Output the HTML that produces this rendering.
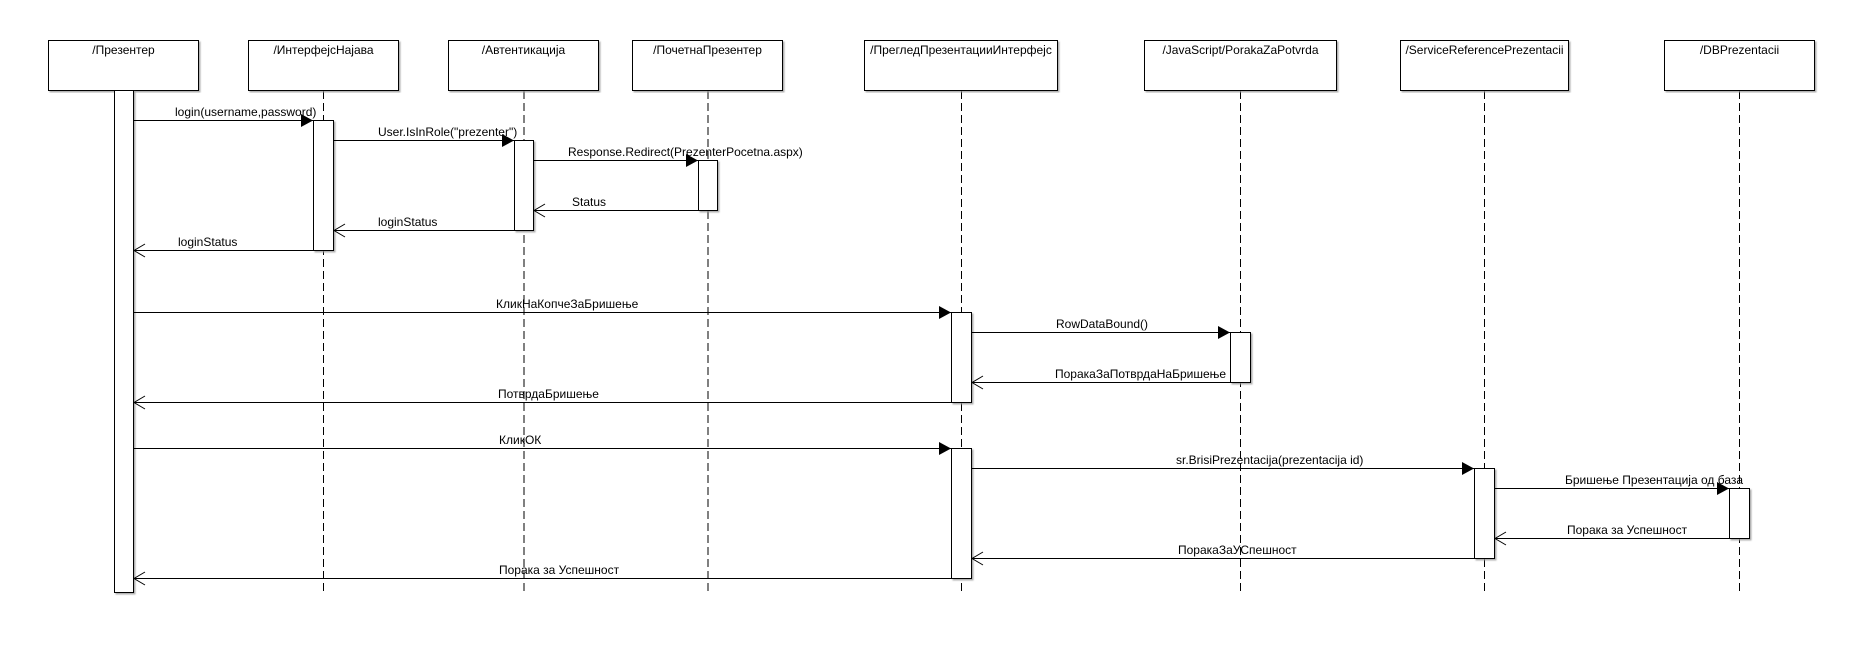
<!DOCTYPE html>
<html><head><meta charset="utf-8"><style>
html,body{margin:0;padding:0;background:#fff;}
svg{display:block;}
text{font-family:"Liberation Sans","DejaVu Sans",sans-serif;font-size:12px;fill:#000;}
</style></head><body>
<svg width="1862" height="650" viewBox="0 0 1862 650" xmlns="http://www.w3.org/2000/svg">
<defs>
<filter id="sh" x="-5%" y="-5%" width="110%" height="110%"><feDropShadow dx="1.5" dy="1.5" stdDeviation="0.8" flood-color="#999" flood-opacity="0.8"/></filter>
</defs>
<!-- lifelines -->
<g stroke="#000" stroke-width="1" stroke-dasharray="8,4" fill="none">
<line x1="323.5" y1="91" x2="323.5" y2="594"/>
<line x1="524" y1="91" x2="524" y2="594"/>
<line x1="708" y1="91" x2="708" y2="594"/>
<line x1="961.5" y1="91" x2="961.5" y2="594"/>
<line x1="1240.5" y1="91" x2="1240.5" y2="594"/>
<line x1="1484.5" y1="91" x2="1484.5" y2="594"/>
<line x1="1739.5" y1="91" x2="1739.5" y2="594"/>
</g>
<!-- boxes -->
<g fill="#fff" stroke="#000" stroke-width="1" filter="url(#sh)">
<rect x="48.5" y="40.5" width="150" height="50"/>
<rect x="248.5" y="40.5" width="150" height="50"/>
<rect x="448.5" y="40.5" width="150" height="50"/>
<rect x="632.5" y="40.5" width="150" height="50"/>
<rect x="864.5" y="40.5" width="193" height="50"/>
<rect x="1144.5" y="40.5" width="192" height="50"/>
<rect x="1400.5" y="40.5" width="168" height="50"/>
<rect x="1664.5" y="40.5" width="150" height="50"/>
</g>
<g text-anchor="middle">
<text x="123.5" y="54">/Презентер</text>
<text x="323.5" y="54">/ИнтерфејсНајава</text>
<text x="523.5" y="54">/Автентикација</text>
<text x="707.5" y="54">/ПочетнаПрезентер</text>
<text x="961" y="54">/ПрегледПрезентацииИнтерфејс</text>
<text x="1240.5" y="54">/JavaScript/PorakaZaPotvrda</text>
<text x="1484.5" y="54">/ServiceReferencePrezentacii</text>
<text x="1739.5" y="54">/DBPrezentacii</text>
</g>
<!-- activation bars -->
<g fill="#fff" stroke="#000" stroke-width="1" filter="url(#sh)">
<rect x="114.5" y="90.5" width="19" height="502"/>
<rect x="313.5" y="120.5" width="20" height="130"/>
<rect x="514.5" y="140.5" width="19" height="90"/>
<rect x="698.5" y="160.5" width="19" height="50"/>
<rect x="951.5" y="312.5" width="20" height="90"/>
<rect x="1230.5" y="332.5" width="20" height="50"/>
<rect x="951.5" y="448.5" width="20" height="130"/>
<rect x="1474.5" y="468.5" width="20" height="90"/>
<rect x="1729.5" y="488.5" width="20" height="50"/>
</g>
<!-- sync messages -->
<g stroke="#000" stroke-width="1">
<line x1="134" y1="120.5" x2="313" y2="120.5"/>
<line x1="334" y1="140.5" x2="514" y2="140.5"/>
<line x1="534" y1="160.5" x2="698" y2="160.5"/>
<line x1="134" y1="312.5" x2="951" y2="312.5"/>
<line x1="972" y1="332.5" x2="1230" y2="332.5"/>
<line x1="134" y1="448.5" x2="951" y2="448.5"/>
<line x1="972" y1="468.5" x2="1474" y2="468.5"/>
<line x1="1495" y1="488.5" x2="1729" y2="488.5"/>
</g>
<g fill="#000">
<polygon points="313,120.5 301,114 301,127"/>
<polygon points="514,140.5 502,134 502,147"/>
<polygon points="698,160.5 686,154 686,167"/>
<polygon points="951,312.5 939,306 939,319"/>
<polygon points="1230,332.5 1218,326 1218,339"/>
<polygon points="951,448.5 939,442 939,455"/>
<polygon points="1474,468.5 1462,462 1462,475"/>
<polygon points="1729,488.5 1717,482 1717,495"/>
</g>
<!-- return messages -->
<g stroke="#000" stroke-width="1" fill="none">
<line x1="534" y1="210.5" x2="698" y2="210.5"/><polyline points="545,204 534,210.5 545,217"/>
<line x1="334" y1="230.5" x2="514" y2="230.5"/><polyline points="345,224 334,230.5 345,237"/>
<line x1="134" y1="250.5" x2="313" y2="250.5"/><polyline points="145,244 134,250.5 145,257"/>
<line x1="972" y1="382.5" x2="1230" y2="382.5"/><polyline points="983,376 972,382.5 983,389"/>
<line x1="134" y1="402.5" x2="951" y2="402.5"/><polyline points="145,396 134,402.5 145,409"/>
<line x1="1495" y1="538.5" x2="1729" y2="538.5"/><polyline points="1506,532 1495,538.5 1506,545"/>
<line x1="972" y1="558.5" x2="1474" y2="558.5"/><polyline points="983,552 972,558.5 983,565"/>
<line x1="134" y1="578.5" x2="951" y2="578.5"/><polyline points="145,572 134,578.5 145,585"/>
</g>
<!-- labels -->
<text x="175" y="116">login(username,password)</text>
<text x="378" y="136">User.IsInRole("prezenter")</text>
<text x="568" y="156">Response.Redirect(PrezenterPocetna.aspx)</text>
<text x="572" y="206">Status</text>
<text x="378" y="226">loginStatus</text>
<text x="178" y="246">loginStatus</text>
<text x="496" y="308">КликНаКопчеЗаБришење</text>
<text x="1056" y="328">RowDataBound()</text>
<text x="1055" y="378">ПоракаЗаПотврдаНаБришење</text>
<text x="498" y="398">ПотврдаБришење</text>
<text x="499" y="444">КликОК</text>
<text x="1176" y="464">sr.BrisiPrezentacija(prezentacija id)</text>
<text x="1565" y="484">Бришење Презентација од база</text>
<text x="1567" y="534">Порака за Успешност</text>
<text x="1178" y="554">ПоракаЗаУСпешност</text>
<text x="499" y="574">Порака за Успешност</text>
</svg>
</body></html>
